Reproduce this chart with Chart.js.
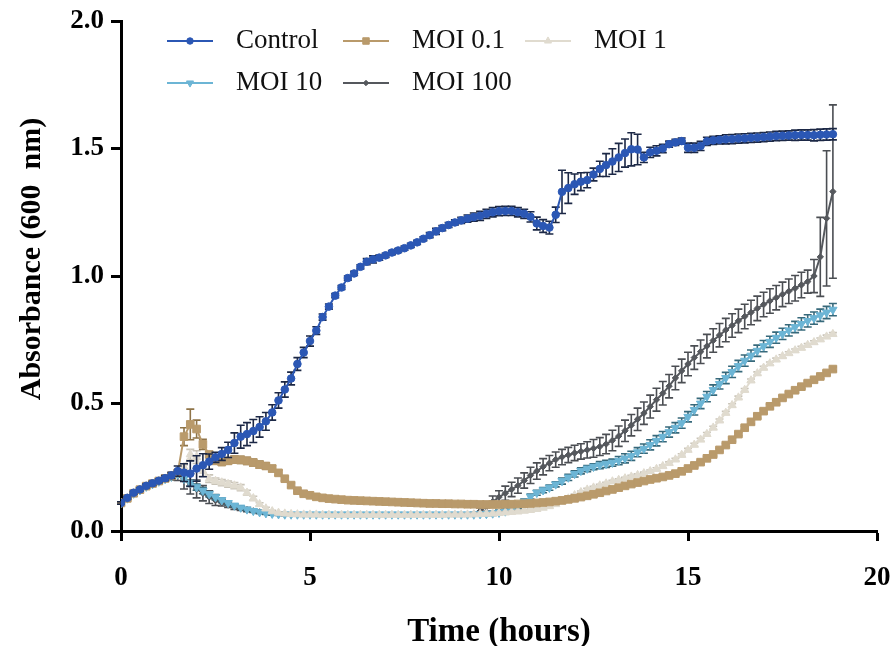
<!DOCTYPE html>
<html>
<head>
<meta charset="utf-8">
<script src="https://cdn.jsdelivr.net/npm/chart.js@4.4.1/dist/chart.umd.min.js"></script>
<style>
  html, body { margin: 0; padding: 0; background: #ffffff; }
  #wrap { width: 891px; height: 646px; }
</style>
</head>
<body>
<div id="wrap"><canvas id="growth" width="891" height="646"></canvas></div>
<script>
// Plate reader read every 10 minutes
const SAMPLE_MINUTES = 10;

// Mean absorbance (600 nm) per read
const control = [
  0.110,0.130,0.150,0.163,0.177,0.187,0.197,0.207,0.218,0.235,
  0.229,0.225,0.245,0.258,0.272,0.289,0.302,0.318,0.345,0.370,
  0.380,0.392,0.408,0.430,0.465,0.512,0.555,0.598,0.655,0.700,
  0.745,0.786,0.839,0.880,0.923,0.955,0.992,1.010,1.036,1.056,
  1.065,1.072,1.081,1.092,1.100,1.109,1.120,1.132,1.146,1.160,
  1.175,1.188,1.200,1.210,1.218,1.225,1.231,1.236,1.244,1.250,
  1.254,1.255,1.255,1.250,1.244,1.232,1.206,1.196,1.190,1.240,
  1.330,1.345,1.360,1.370,1.376,1.398,1.420,1.435,1.449,1.465,
  1.482,1.497,1.496,1.465,1.485,1.491,1.500,1.517,1.524,1.529,
  1.503,1.503,1.510,1.528,1.532,1.534,1.536,1.537,1.539,1.540,
  1.542,1.543,1.545,1.547,1.549,1.550,1.551,1.552,1.553,1.553,
  1.552,1.554,1.555,1.556
];
const moi01 = [
  0.110,0.128,0.148,0.162,0.176,0.186,0.196,0.206,0.216,0.228,
  0.370,0.418,0.400,0.340,0.300,0.275,0.270,0.275,0.280,0.279,
  0.275,0.268,0.260,0.255,0.245,0.228,0.205,0.180,0.158,0.146,
  0.140,0.134,0.130,0.127,0.125,0.123,0.121,0.120,0.119,0.118,
  0.117,0.116,0.115,0.114,0.113,0.112,0.111,0.110,0.109,0.108,
  0.108,0.107,0.107,0.106,0.106,0.105,0.105,0.104,0.104,0.104,
  0.104,0.105,0.105,0.106,0.107,0.108,0.110,0.112,0.114,0.117,
  0.120,0.124,0.128,0.133,0.138,0.144,0.150,0.157,0.163,0.170,
  0.177,0.184,0.190,0.196,0.202,0.207,0.212,0.218,0.225,0.234,
  0.245,0.257,0.270,0.285,0.300,0.318,0.337,0.358,0.380,0.405,
  0.428,0.450,0.470,0.489,0.505,0.522,0.537,0.552,0.566,0.580,
  0.593,0.606,0.620,0.635
];
const moi1 = [
  0.110,0.128,0.148,0.161,0.175,0.185,0.195,0.205,0.215,0.225,
  0.250,0.300,0.290,0.235,0.205,0.196,0.190,0.184,0.178,0.170,
  0.150,0.128,0.105,0.088,0.077,0.071,0.068,0.066,0.065,0.064,
  0.064,0.064,0.063,0.063,0.063,0.063,0.063,0.063,0.063,0.063,
  0.063,0.063,0.063,0.063,0.063,0.063,0.063,0.063,0.063,0.063,
  0.063,0.063,0.064,0.064,0.064,0.064,0.065,0.066,0.067,0.068,
  0.070,0.072,0.074,0.076,0.079,0.082,0.086,0.091,0.097,0.105,
  0.115,0.127,0.140,0.152,0.162,0.170,0.178,0.186,0.194,0.200,
  0.206,0.213,0.219,0.226,0.234,0.243,0.254,0.266,0.280,0.298,
  0.318,0.338,0.358,0.380,0.405,0.433,0.463,0.493,0.523,0.553,
  0.590,0.618,0.640,0.657,0.672,0.685,0.697,0.708,0.718,0.729,
  0.740,0.751,0.762,0.772
];
const moi10 = [
  0.110,0.128,0.147,0.160,0.174,0.184,0.194,0.204,0.213,0.222,
  0.205,0.188,0.172,0.158,0.145,0.133,0.121,0.110,0.100,0.092,
  0.085,0.079,0.074,0.070,0.068,0.066,0.065,0.065,0.065,0.065,
  0.065,0.065,0.065,0.065,0.065,0.065,0.065,0.065,0.065,0.065,
  0.065,0.065,0.065,0.065,0.065,0.065,0.065,0.065,0.065,0.065,
  0.065,0.065,0.065,0.065,0.065,0.065,0.065,0.066,0.067,0.069,
  0.072,0.077,0.085,0.097,0.115,0.135,0.150,0.160,0.170,0.183,
  0.196,0.210,0.224,0.236,0.245,0.252,0.258,0.263,0.268,0.276,
  0.285,0.295,0.309,0.323,0.338,0.354,0.370,0.388,0.405,0.423,
  0.448,0.475,0.500,0.527,0.553,0.577,0.600,0.624,0.647,0.668,
  0.688,0.707,0.725,0.742,0.758,0.773,0.787,0.800,0.812,0.824,
  0.835,0.846,0.857,0.868
];
const moi100 = [
  0.110,0.128,0.147,0.160,0.173,0.183,0.193,0.203,0.212,0.218,
  0.200,0.185,0.165,0.148,0.133,0.120,0.110,0.102,0.095,0.089,
  0.084,0.079,0.075,0.071,0.068,0.066,0.065,0.064,0.064,0.064,
  0.064,0.064,0.064,0.064,0.064,0.064,0.064,0.064,0.064,0.064,
  0.064,0.064,0.064,0.064,0.064,0.064,0.064,0.064,0.064,0.064,
  0.064,0.064,0.064,0.064,0.065,0.066,0.068,0.078,0.095,0.115,
  0.133,0.148,0.163,0.178,0.198,0.218,0.235,0.252,0.266,0.280,
  0.290,0.298,0.306,0.312,0.318,0.324,0.331,0.341,0.355,0.372,
  0.393,0.415,0.438,0.462,0.488,0.515,0.540,0.568,0.600,0.628,
  0.655,0.680,0.703,0.725,0.747,0.768,0.788,0.806,0.824,0.841,
  0.857,0.873,0.888,0.902,0.915,0.928,0.940,0.952,0.965,0.978,
  1.000,1.075,1.226,1.331
];

// Standard deviation per read
const controlSd = [
  0.005,0.005,0.006,0.006,0.007,0.008,0.008,0.010,0.012,0.020,
  0.035,0.050,0.050,0.045,0.030,0.020,0.025,0.030,0.040,0.045,
  0.045,0.045,0.040,0.035,0.030,0.030,0.030,0.025,0.025,0.020,
  0.020,0.015,0.012,0.010,0.008,0.008,0.008,0.008,0.008,0.012,
  0.014,0.010,0.008,0.008,0.008,0.008,0.008,0.008,0.008,0.010,
  0.012,0.010,0.010,0.010,0.012,0.014,0.016,0.018,0.018,0.018,
  0.018,0.018,0.018,0.018,0.018,0.020,0.025,0.025,0.025,0.030,
  0.085,0.060,0.040,0.035,0.030,0.025,0.030,0.045,0.050,0.055,
  0.055,0.065,0.060,0.020,0.020,0.020,0.016,0.012,0.012,0.012,
  0.018,0.018,0.018,0.016,0.016,0.016,0.018,0.018,0.018,0.018,
  0.018,0.018,0.018,0.018,0.018,0.018,0.018,0.020,0.020,0.020,
  0.022,0.022,0.022,0.022
];
const moi01Sd = [
  0.004,0.004,0.004,0.005,0.005,0.005,0.006,0.006,0.008,0.012,
  0.035,0.060,0.035,0.020,0.012,0.012,0.012,0.012,0.014,0.014,
  0.014,0.014,0.014,0.012,0.012,0.010,0.008,0.008,0.006,0.006,
  0.005,0.005,0.005,0.005,0.005,0.005,0.005,0.005,0.005,0.005,
  0.005,0.005,0.005,0.005,0.005,0.005,0.005,0.005,0.005,0.005,
  0.005,0.005,0.005,0.005,0.005,0.005,0.005,0.005,0.005,0.005,
  0.005,0.005,0.005,0.005,0.005,0.005,0.005,0.005,0.005,0.005,
  0.005,0.005,0.005,0.005,0.005,0.005,0.005,0.005,0.005,0.005,
  0.005,0.005,0.005,0.005,0.005,0.005,0.005,0.005,0.005,0.005,
  0.006,0.006,0.006,0.006,0.006,0.006,0.006,0.006,0.006,0.006,
  0.008,0.008,0.008,0.008,0.008,0.008,0.008,0.008,0.008,0.008,
  0.008,0.008,0.008,0.008
];
const moi1Sd = [
  0.004,0.004,0.004,0.004,0.004,0.004,0.004,0.004,0.004,0.006,
  0.010,0.020,0.025,0.020,0.015,0.012,0.012,0.012,0.012,0.012,
  0.010,0.008,0.006,0.005,0.004,0.004,0.004,0.004,0.004,0.004,
  0.004,0.004,0.004,0.004,0.004,0.004,0.004,0.004,0.004,0.004,
  0.004,0.004,0.004,0.004,0.004,0.004,0.004,0.004,0.004,0.004,
  0.004,0.004,0.004,0.004,0.004,0.004,0.004,0.004,0.004,0.004,
  0.004,0.004,0.004,0.004,0.004,0.004,0.004,0.004,0.004,0.004,
  0.005,0.005,0.005,0.005,0.005,0.005,0.005,0.005,0.005,0.005,
  0.005,0.005,0.005,0.005,0.005,0.005,0.005,0.005,0.005,0.005,
  0.006,0.006,0.006,0.006,0.006,0.006,0.006,0.006,0.006,0.006,
  0.006,0.006,0.006,0.006,0.006,0.006,0.006,0.006,0.006,0.006,
  0.006,0.006,0.006,0.006
];
const moi10Sd = [
  0.004,0.004,0.004,0.004,0.004,0.004,0.004,0.004,0.004,0.006,
  0.010,0.012,0.012,0.012,0.010,0.010,0.008,0.008,0.006,0.006,
  0.005,0.005,0.005,0.005,0.005,0.005,0.005,0.005,0.005,0.005,
  0.005,0.005,0.005,0.005,0.005,0.005,0.005,0.005,0.005,0.005,
  0.005,0.005,0.005,0.005,0.005,0.005,0.005,0.005,0.005,0.005,
  0.005,0.005,0.005,0.005,0.005,0.005,0.005,0.006,0.008,0.008,
  0.010,0.010,0.010,0.010,0.010,0.010,0.010,0.010,0.010,0.010,
  0.012,0.012,0.012,0.012,0.012,0.012,0.014,0.014,0.014,0.016,
  0.018,0.018,0.018,0.018,0.020,0.020,0.020,0.020,0.020,0.020,
  0.020,0.020,0.020,0.020,0.020,0.020,0.022,0.022,0.022,0.022,
  0.022,0.022,0.022,0.022,0.022,0.022,0.022,0.022,0.024,0.024,
  0.024,0.024,0.024,0.024
];
const moi100Sd = [
  0.004,0.004,0.004,0.005,0.005,0.005,0.006,0.008,0.012,0.020,
  0.035,0.040,0.035,0.030,0.025,0.020,0.012,0.010,0.010,0.008,
  0.008,0.006,0.006,0.005,0.005,0.004,0.004,0.004,0.004,0.004,
  0.004,0.004,0.004,0.004,0.004,0.004,0.004,0.004,0.004,0.004,
  0.004,0.004,0.004,0.004,0.004,0.004,0.004,0.004,0.004,0.004,
  0.004,0.004,0.004,0.004,0.004,0.004,0.004,0.012,0.018,0.022,
  0.025,0.028,0.028,0.030,0.030,0.032,0.032,0.032,0.030,0.030,
  0.030,0.030,0.030,0.030,0.032,0.035,0.035,0.038,0.040,0.040,
  0.042,0.042,0.044,0.044,0.045,0.045,0.046,0.046,0.046,0.046,
  0.046,0.046,0.046,0.046,0.046,0.046,0.046,0.046,0.046,0.048,
  0.048,0.048,0.048,0.048,0.048,0.048,0.048,0.050,0.050,0.045,
  0.065,0.155,0.265,0.340
];

const seriesLabels = ['Control', 'MOI 0.1', 'MOI 1', 'MOI 10', 'MOI 100'];
const xTicks = [0, 5, 10, 15, 20];
const yTicks = [0.0, 0.5, 1.0, 1.5, 2.0];
const xTitle = 'Time (hours)';
const yTitle = 'Absorbance (600  nm)';

const hours = control.map((_, i) => i * SAMPLE_MINUTES / 60);
const toPoints = (vals) => vals.map((v, i) => ({ x: hours[i], y: v }));

const serif = '"Liberation Serif", "Times New Roman", serif';

function series(label, vals, sd, color, barColor, style, radius, rotation) {
  return {
    label,
    data: toPoints(vals),
    sd,
    barColor,
    borderColor: color,
    backgroundColor: color,
    pointBackgroundColor: color,
    pointBorderColor: color,
    pointStyle: style,
    pointRadius: radius,
    pointRotation: rotation || 0,
    pointBorderWidth: 1,
    borderWidth: 2,
    tension: 0,
    fill: false
  };
}

const datasets = [
  series(seriesLabels[0], control, controlSd, '#2b57b4', '#1c2846', 'circle', 3.8),
  series(seriesLabels[1], moi01, moi01Sd, '#b99a6b', '#8f7448', 'rect', 5.4),
  series(seriesLabels[2], moi1, moi1Sd, '#e0dbcf', '#c9c4b8', 'triangle', 4.8),
  series(seriesLabels[3], moi10, moi10Sd, '#6cb5d5', '#37697b', 'triangle', 4.8, 180),
  series(seriesLabels[4], moi100, moi100Sd, '#55585d', '#4b4e53', 'rectRot', 3.2)
];

// Mean ± SD bars, painted just beneath each series' own line and symbols
const errorBars = {
  id: 'errorBars',
  beforeDatasetDraw(chart, args) {
    const ds = chart.data.datasets[args.index];
    if (!ds.sd) return;
    const yScale = chart.scales.y;
    const ctx = chart.ctx;
    const cap = 4;
    ctx.save();
    ctx.strokeStyle = ds.barColor;
    ctx.lineWidth = 1.6;
    args.meta.data.forEach((pt, i) => {
      const v = ds.data[i].y;
      const top = yScale.getPixelForValue(v + ds.sd[i]);
      const bot = yScale.getPixelForValue(v - ds.sd[i]);
      ctx.beginPath();
      ctx.moveTo(pt.x, top); ctx.lineTo(pt.x, bot);
      ctx.moveTo(pt.x - cap, top); ctx.lineTo(pt.x + cap, top);
      ctx.moveTo(pt.x - cap, bot); ctx.lineTo(pt.x + cap, bot);
      ctx.stroke();
    });
    ctx.restore();
  }
};

// Legend laid out as a three-column grid
const gridLegend = {
  id: 'gridLegend',
  afterDraw(chart, args, opts) {
    const ctx = chart.ctx;
    chart.data.datasets.forEach((ds, i) => {
      const col = i % opts.columns.length;
      const row = Math.floor(i / opts.columns.length);
      const cx = opts.columns[col];
      const cy = opts.y + row * opts.rowHeight;
      ctx.save();
      ctx.strokeStyle = ds.borderColor;
      ctx.lineWidth = 2;
      ctx.beginPath();
      ctx.moveTo(cx - opts.lineHalf, cy);
      ctx.lineTo(cx + opts.lineHalf, cy);
      ctx.stroke();
      ctx.fillStyle = ds.pointBackgroundColor;
      ctx.strokeStyle = ds.pointBorderColor;
      ctx.lineWidth = 1;
      Chart.helpers.drawPoint(ctx, {
        pointStyle: ds.pointStyle,
        radius: ds.pointRadius * 0.85,
        rotation: ds.pointRotation,
        borderWidth: 1
      }, cx, cy);
      ctx.fillStyle = '#111111';
      ctx.font = opts.font;
      ctx.textAlign = 'left';
      ctx.textBaseline = 'middle';
      ctx.fillText(ds.label, cx + opts.textGap, cy);
      ctx.restore();
    });
  }
};

// Rotated y-axis title, centred a little above the middle of the axis
const yAxisTitle = {
  id: 'yAxisTitle',
  afterDraw(chart, args, opts) {
    const ctx = chart.ctx;
    const area = chart.chartArea;
    ctx.save();
    ctx.translate(opts.x, (area.top + area.bottom) / 2 + opts.shift);
    ctx.rotate(-Math.PI / 2);
    ctx.font = opts.font;
    ctx.fillStyle = '#000';
    ctx.textAlign = 'center';
    ctx.textBaseline = 'middle';
    ctx.fillText(opts.text, 0, 0);
    ctx.restore();
  }
};

new Chart(document.getElementById('growth'), {
  type: 'line',
  data: { datasets },
  plugins: [errorBars, gridLegend, yAxisTitle],
  options: {
    responsive: false,
    animation: false,
    events: [],
    layout: { padding: { left: 0, top: 21, right: 14, bottom: 0 } },
    plugins: {
      legend: { display: false },
      tooltip: { enabled: false },
      gridLegend: {
        columns: [190, 366, 548], y: 41, rowHeight: 42,
        lineHalf: 23, textGap: 46, font: '27px ' + serif
      },
      yAxisTitle: { text: yTitle, x: 32, shift: -17, font: 'bold 30px ' + serif }
    },
    scales: {
      x: {
        type: 'linear',
        min: 0, max: 20,
        afterFit: (s) => { s.height = 115; s.paddingLeft = 0; s.paddingRight = 0; },
        afterBuildTicks: (s) => { s.ticks = xTicks.map(v => ({ value: v })); },
        ticks: {
          color: '#000', padding: 21,
          font: { family: serif, size: 27, weight: 'bold' },
          callback: (v) => String(v)
        },
        grid: { display: true, drawOnChartArea: false, drawTicks: true, tickLength: 10, tickWidth: 3, tickColor: '#000' },
        border: { display: true, color: '#000', width: 3 },
        title: {
          display: true, text: xTitle, color: '#000',
          font: { family: serif, size: 33, weight: 'bold', lineHeight: 1 },
          padding: { top: 0, bottom: -3 }
        }
      },
      y: {
        type: 'linear',
        min: 0, max: 2,
        afterFit: (s) => { s.width = 121; s.paddingTop = 0; s.paddingBottom = 0; },
        afterBuildTicks: (s) => { s.ticks = yTicks.map(v => ({ value: v })); },
        ticks: {
          color: '#000', padding: 7,
          font: { family: serif, size: 27, weight: 'bold' },
          callback: (v) => Number(v).toFixed(1)
        },
        grid: { display: true, drawOnChartArea: false, drawTicks: true, tickLength: 10, tickWidth: 3, tickColor: '#000' },
        border: { display: true, color: '#000', width: 3 },
        title: { display: false }
      }
    }
  }
});
</script>
</body>
</html>
